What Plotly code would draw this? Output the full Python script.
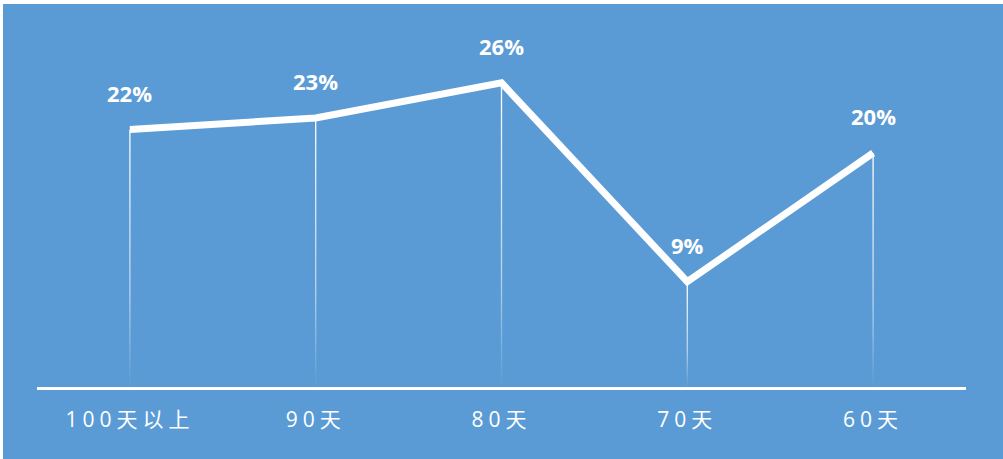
import plotly.graph_objects as go

categories = ["100天以上", "90天", "80天", "70天", "60天"]
values = [22, 23, 26, 9, 20]
labels = ["22%", "23%", "26%", "9%", "20%"]

BLUE = "#5B9BD5"
W, H = 1003, 459
ML, MR, MT, MB = 37, 37, 36, 72
PW = W - ML - MR
PH = H - MT - MB

fig = go.Figure()

# drop lines with vertical gradient (thin filled polygons)
half = 0.65 / (PW / 5)
for i, v in enumerate(values):
    fig.add_trace(go.Scatter(
        x=[i - half, i + half, i + half, i - half, i - half],
        y=[0, 0, v, v, 0],
        mode="lines", line=dict(width=0), fill="toself",
        fillgradient=dict(type="vertical",
                          colorscale=[[0, "rgba(255,255,255,0)"], [0.35, "rgba(255,255,255,0.55)"], [1, "rgba(255,255,255,1)"]]),
        hoverinfo="skip", showlegend=False,
    ))

fig.add_trace(go.Scatter(
    x=list(range(len(categories))), y=values, mode="lines",
    line=dict(color="white", width=7), showlegend=False, hoverinfo="skip",
))

for i, (v, t) in enumerate(zip(values, labels)):
    fig.add_annotation(x=i, y=v, text=t, showarrow=False, yshift=37,
                       font=dict(family="Open Sans", size=22, color="white", weight="bold"))

# background panel with thin white border at top/left
fig.add_shape(type="rect", xref="paper", yref="paper", layer="below",
              x0=(3 - ML) / PW, x1=(W + 5 - ML) / PW,
              y0=-(MB + 5) / PH, y1=(PH + MT - 4) / PH,
              fillcolor=BLUE, line=dict(width=0))

fig.update_layout(
    width=W, height=H,
    margin=dict(l=ML, r=MR, t=MT, b=MB, pad=0),
    paper_bgcolor="white", plot_bgcolor="rgba(0,0,0,0)",
    xaxis=dict(range=[-0.5, 4.5], tickmode="array", tickvals=list(range(len(categories))),
               ticktext=categories, showgrid=False, zeroline=False,
               showline=True, linecolor="white", linewidth=3, ticks="",
               ticklabelstandoff=12,
               tickfont=dict(family="Open Sans, Noto Sans CJK SC", size=21, color="white")),
    yaxis=dict(range=[0, 30], visible=False, showgrid=False, zeroline=False),
)

fig.write_html("out.html", config={"displayModeBar": False, "staticPlot": True}, post_script="""
document.body.style.margin='0';
document.body.style.padding='0';
document.querySelectorAll('.xtick text').forEach(function(t){t.style.letterSpacing='5px';});
""")
